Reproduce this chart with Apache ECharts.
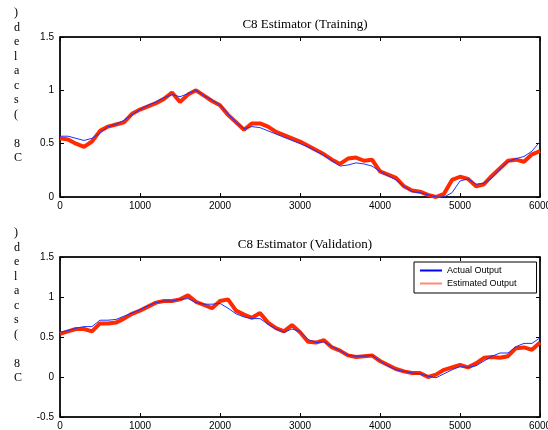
<!DOCTYPE html>
<html>
<head>
<meta charset="utf-8">
<script src="https://cdn.jsdelivr.net/npm/echarts@6/dist/echarts.min.js"></script>
<style>
  html, body { margin: 0; padding: 0; background: #fff; }
  #chart { width: 548px; height: 430px; }
</style>
</head>
<body>
<div id="chart"></div>
<script>
// sample index, step 100
var steps = [];
for (var i = 0; i <= 60; i++) steps.push(i * 100);

var trainActual = [0.57,0.57,0.55,0.53,0.55,0.60,0.66,0.68,0.72,0.77,0.82,0.86,0.89,0.93,0.96,0.94,0.97,1.00,0.95,0.91,
  0.86,0.78,0.70,0.64,0.66,0.65,0.62,0.59,0.56,0.53,0.50,0.47,0.43,0.39,0.34,0.29,0.30,0.32,0.31,0.29,
  0.24,0.20,0.16,0.10,0.05,0.04,0.02,0.00,0.00,0.04,0.15,0.17,0.12,0.13,0.18,0.26,0.33,0.36,0.38,0.43,0.52];
var trainEstimated = [0.55,0.54,0.50,0.47,0.52,0.62,0.66,0.68,0.70,0.78,0.82,0.85,0.88,0.92,0.98,0.89,0.96,1.00,0.95,0.90,
  0.86,0.77,0.70,0.63,0.69,0.69,0.66,0.61,0.58,0.55,0.52,0.48,0.44,0.40,0.35,0.31,0.36,0.37,0.34,0.35,
  0.24,0.21,0.18,0.10,0.06,0.05,0.02,0.00,0.03,0.16,0.19,0.17,0.10,0.12,0.20,0.27,0.34,0.35,0.33,0.40,0.43];
var validActual = [0.56,0.58,0.61,0.63,0.63,0.71,0.71,0.72,0.76,0.80,0.84,0.89,0.93,0.95,0.95,0.97,0.98,0.93,0.91,0.91,
  0.92,0.86,0.79,0.75,0.73,0.73,0.66,0.60,0.56,0.60,0.57,0.47,0.43,0.44,0.38,0.33,0.27,0.26,0.26,0.27,
  0.20,0.14,0.09,0.07,0.05,0.04,0.01,-0.01,0.04,0.09,0.13,0.12,0.14,0.20,0.26,0.30,0.30,0.38,0.42,0.42,0.49];
var validEstimated = [0.54,0.57,0.60,0.60,0.57,0.67,0.67,0.68,0.73,0.79,0.83,0.88,0.93,0.95,0.95,0.97,1.02,0.94,0.90,0.86,
  0.95,0.97,0.83,0.78,0.74,0.80,0.68,0.61,0.57,0.65,0.56,0.44,0.43,0.46,0.37,0.33,0.27,0.25,0.26,0.27,
  0.20,0.15,0.10,0.07,0.05,0.05,0.00,0.03,0.09,0.12,0.15,0.12,0.17,0.24,0.25,0.24,0.26,0.36,0.37,0.34,0.43];

var titles = ['C8 Estimator (Training)', 'C8 Estimator (Validation)'];
var yLabel = ')\nd\ne\nl\na\nc\ns\n(\n\n8\nC';

function pairs(ys) {
    var out = [];
    for (var i = 0; i < ys.length; i++) out.push([steps[i], ys[i]]);
    return out;
}

var labelStyle = { fontFamily: 'Liberation Sans', fontSize: 10, color: '#000' };
var lineStyle = { color: '#000', width: 1.5 };
var plain = function (v) { return String(v); };

function xAxes(g) {
    return [{
        gridIndex: g, type: 'value', min: 0, max: 6000, interval: 1000,
        axisLine: { onZero: false, lineStyle: lineStyle },
        axisTick: { inside: true, length: 4, lineStyle: { color: '#000' } },
        axisLabel: Object.assign({ margin: 4, formatter: plain, showMaxLabel: true }, labelStyle),
        splitLine: { show: false }
    }, {
        gridIndex: g, type: 'value', min: 0, max: 6000, interval: 1000, position: 'top',
        axisLine: { onZero: false, lineStyle: lineStyle },
        axisTick: { inside: true, length: 4, lineStyle: { color: '#000' } },
        axisLabel: { show: false },
        splitLine: { show: false }
    }];
}
function yAxes(g, min) {
    return [{
        gridIndex: g, type: 'value', min: min, max: 1.5, interval: 0.5,
        axisLine: { onZero: false, lineStyle: lineStyle },
        axisTick: { inside: true, length: 4, lineStyle: { color: '#000' } },
        axisLabel: Object.assign({ margin: 6, formatter: plain }, labelStyle),
        splitLine: { show: false }
    }, {
        gridIndex: g, type: 'value', min: min, max: 1.5, interval: 0.5, position: 'right',
        axisLine: { onZero: false, lineStyle: lineStyle },
        axisTick: { inside: true, length: 4, lineStyle: { color: '#000' } },
        axisLabel: { show: false },
        splitLine: { show: false }
    }];
}

var myChart = echarts.init(document.getElementById('chart'));
var option = {
    backgroundColor: '#fff',
    animation: false,
    title: [
        { text: titles[0], left: 300, top: 13, textAlign: 'center',
          textStyle: { fontFamily: 'Liberation Serif', fontSize: 13, fontWeight: 'normal', color: '#000' } },
        { text: titles[1], left: 300, top: 233, textAlign: 'center',
          textStyle: { fontFamily: 'Liberation Serif', fontSize: 13, fontWeight: 'normal', color: '#000' } }
    ],
    graphic: [
        { type: 'text', left: 14, top: 6, style: { text: yLabel, font: '12px "Liberation Serif"', fill: '#000', lineHeight: 14.5 } },
        { type: 'text', left: 14, top: 226, style: { text: yLabel, font: '12px "Liberation Serif"', fill: '#000', lineHeight: 14.5 } }
    ],
    legend: {
        data: ['Actual Output', 'Estimated Output'],
        orient: 'vertical', left: 414, top: 262,
        backgroundColor: '#fff', borderColor: '#000', borderWidth: 1,
        padding: [4, 20, 5, 6], itemGap: 4,
        itemWidth: 22, itemHeight: 2,
        icon: 'rect',
        textStyle: { fontFamily: 'Liberation Sans', fontSize: 9, color: '#000' }
    },
    grid: [
        { left: 60, right: 8, top: 37, height: 160, show: true, borderColor: '#000', borderWidth: 1, outerBoundsMode: 'none' },
        { left: 60, right: 8, top: 257, height: 160, show: true, borderColor: '#000', borderWidth: 1, outerBoundsMode: 'none' }
    ],
    xAxis: xAxes(0).concat(xAxes(1)),
    yAxis: yAxes(0, 0).concat(yAxes(1, -0.5)),
    series: [
        { name: 'Estimated Output', type: 'line', xAxisIndex: 0, yAxisIndex: 0, showSymbol: false, symbol: 'none',
          lineStyle: { color: '#ff2a00', width: 4 }, itemStyle: { color: '#ff8a70' }, data: pairs(trainEstimated) },
        { name: 'Actual Output', type: 'line', xAxisIndex: 0, yAxisIndex: 0, showSymbol: false, symbol: 'none',
          lineStyle: { color: '#1a33ff', width: 1 }, itemStyle: { color: '#0000ff' }, data: pairs(trainActual) },
        { name: 'Estimated Output', type: 'line', xAxisIndex: 2, yAxisIndex: 2, showSymbol: false, symbol: 'none',
          lineStyle: { color: '#ff2a00', width: 4 }, itemStyle: { color: '#ff8a70' }, data: pairs(validEstimated) },
        { name: 'Actual Output', type: 'line', xAxisIndex: 2, yAxisIndex: 2, showSymbol: false, symbol: 'none',
          lineStyle: { color: '#1a33ff', width: 1 }, itemStyle: { color: '#0000ff' }, data: pairs(validActual) }
    ]
};
myChart.setOption(option);
</script>
</body>
</html>
